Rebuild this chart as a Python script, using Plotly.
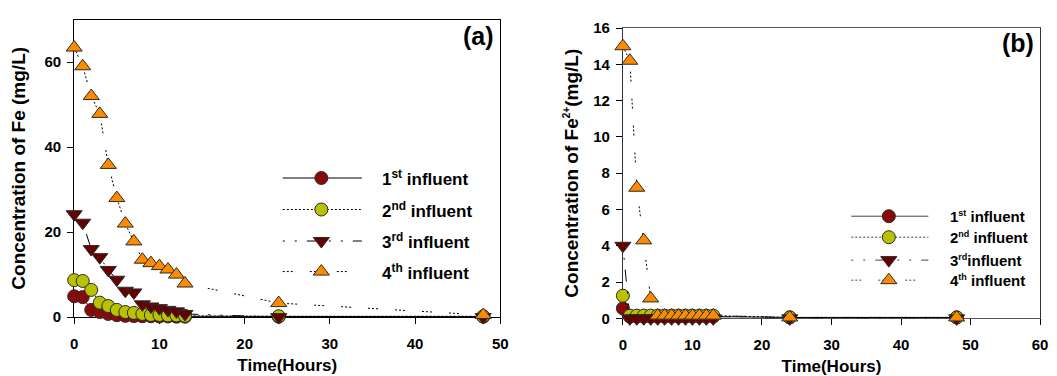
import plotly.graph_objects as go

# ---------------- data ----------------
time_h = [0, 1, 2, 3, 4, 5, 6, 7, 8, 9, 10, 11, 12, 13, 24, 48]

fe_1st = [4.9, 4.7, 1.7, 1.2, 0.75, 0.45, 0.3, 0.25, 0.2, 0.2, 0.15, 0.15, 0.1, 0.1, 0.1, 0.1]
fe_2nd = [8.7, 8.5, 6.4, 3.4, 2.6, 1.7, 1.2, 1.0, 0.75, 0.5, 0.5, 0.4, 0.4, 0.3, 0.2, 0.2]
fe_3rd = [24.2, 22.2, 16.0, 14.1, 11.1, 8.8, 6.2, 5.8, 3.0, 2.5, 2.1, 1.7, 1.35, 0.75, 0.0, 0.0]
fe_4th = [63.4, 59.0, 52.0, 47.8, 35.8, 28.0, 22.0, 17.8, 13.5, 12.7, 12.0, 11.2, 10.0, 7.9, 3.3, 0.5]

fe2_1st = [0.55, 0.1, 0.1, 0.1, 0.1, 0.1, 0.1, 0.1, 0.1, 0.1, 0.1, 0.1, 0.1, 0.1, 0.05, 0.05]
fe2_2nd = [1.25, 0.15, 0.15, 0.15, 0.15, 0.15, 0.15, 0.15, 0.15, 0.15, 0.15, 0.15, 0.15, 0.15, 0.05, 0.05]
fe2_3rd = [4.0, 0.0, 0.0, 0.0, 0.0, 0.0, 0.0, 0.0, 0.0, 0.0, 0.0, 0.0, 0.0, 0.0, 0.0, 0.0]
fe2_4th = [15.0, 14.2, 7.2, 4.3, 1.1, 0.15, 0.15, 0.15, 0.15, 0.15, 0.15, 0.15, 0.15, 0.15, 0.05, 0.05]

series_names = ["1st influent", "2nd influent", "3rd influent", "4th influent"]
legend_labels_a = ["1<sup>st</sup> influent", "2<sup>nd</sup> influent",
                   "3<sup>rd</sup> influent", "4<sup>th</sup> influent"]
legend_labels_b = ['1<sup><span style="font-size:9px">st</span></sup> influent',
                   '2<sup><span style="font-size:9px">nd</span></sup> influent',
                   '3<sup><span style="font-size:9px">rd</span></sup>influent',
                   '4<sup><span style="font-size:9px">th</span></sup> influent']

# ---------------- styles ----------------
W, H = 1057, 376
FONT = "Liberation Sans, Arial, sans-serif"
colors = ["#8a0a0a", "#b9c100", "#650000", "#ff8a00"]
symbols = ["circle", "circle", "triangle-down", "triangle-up"]
msizes = [13, 13, 14, 14]
dashes = ["solid", "2px,2px", "2px,10px,2px,10px,12px,10px", "2px,2px,2px,2px,2px,17px"]

fig = go.Figure()

left = [fe_1st, fe_2nd, fe_3rd, fe_4th]
right = [fe2_1st, fe2_2nd, fe2_3rd, fe2_4th]

for i in range(4):
    fig.add_trace(go.Scatter(
        x=time_h, y=left[i], mode="lines+markers", name=series_names[i],
        line=dict(color="black", width=1, dash=dashes[i]),
        marker=dict(symbol=symbols[i], size=msizes[i], color=colors[i],
                    line=dict(color="#2a2a2a", width=1)),
        cliponaxis=False, showlegend=False, xaxis="x", yaxis="y"))
for i in range(4):
    fig.add_trace(go.Scatter(
        x=time_h, y=right[i], mode="lines+markers", name=series_names[i],
        line=dict(color="black", width=1, dash=dashes[i]),
        marker=dict(symbol=symbols[i], size=msizes[i], color=colors[i],
                    line=dict(color="#2a2a2a", width=1)),
        cliponaxis=False, showlegend=False, xaxis="x2", yaxis="y2"))

# ---------------- hand-made legends (pixel overlay axis) ----------------
leg_a = dict(x0=282, x1=362, xm=321, xt=380, ys=[177, 210, 243, 275], size=17, dy=0)
leg_b = dict(x0=857, x1=935, xm=895, xt=955, ys=[217, 239, 263, 284], size=15, dy=0)
annotations = []
for leg, labels in ((leg_a, legend_labels_a), (leg_b, legend_labels_b)):
    for i, yy in enumerate(leg["ys"]):
        fig.add_trace(go.Scatter(
            x=[leg["x0"], leg["x1"]], y=[yy, yy], mode="lines",
            line=dict(color="black" if leg is leg_a else "#444", width=1, dash=dashes[i]),
            showlegend=False, hoverinfo="skip", xaxis="x3", yaxis="y3"))
        fig.add_trace(go.Scatter(
            x=[leg["xm"]], y=[yy], mode="markers",
            marker=dict(symbol=symbols[i], size=msizes[i], color=colors[i],
                        line=dict(color="#2a2a2a", width=1)),
            showlegend=False, hoverinfo="skip", xaxis="x3", yaxis="y3"))
        annotations.append(dict(
            x=leg["xt"] / W, y=1 - (yy + leg["dy"]) / H, xref="paper", yref="paper",
            xanchor="left", yanchor="middle", showarrow=False, text=labels[i],
            font=dict(family=FONT, size=leg["size"], color="black", weight="bold")))

annotations.append(dict(x=480 / W, y=1 - 28 / H, xref="paper", yref="paper",
                        text="(a)", showarrow=False, xanchor="center", yanchor="middle",
                        font=dict(family=FONT, size=25, color="black", weight="bold")))
annotations.append(dict(x=1026 / W, y=1 - 36 / H, xref="paper", yref="paper",
                        text="(b)", showarrow=False, xanchor="center", yanchor="middle",
                        font=dict(family=FONT, size=25, color="black", weight="bold")))

tickfont = dict(family=FONT, size=15, color="black", weight="bold")
titlefont = dict(family=FONT, size=17, color="black", weight="bold")

common = dict(showgrid=False, zeroline=False, showline=True, linewidth=1,
              ticks="outside", ticklen=6, tickwidth=1, tickcolor="black",
              tickfont=tickfont, layer="below traces")

fig.update_layout(
    width=W, height=H, autosize=False,
    margin=dict(l=0, r=0, t=0, b=0),
    paper_bgcolor="white", plot_bgcolor="rgba(0,0,0,0)",
    xaxis=dict(domain=[71 / W, 502 / W], range=[0, 50], dtick=10, anchor="y",
               linecolor="black", mirror=True, ticklabelstandoff=7,
               title=dict(text="Time(Hours)", font=titlefont, standoff=7), **common),
    yaxis=dict(domain=[1 - 322.7 / H, 1 - 11 / H], range=[0, 70], dtick=20, anchor="x",
               linecolor="black", mirror=True, ticklabelstandoff=3,
               title=dict(text="Concentration of Fe (mg/L)", font=dict(titlefont, size=19), standoff=13),
               **common),
    xaxis2=dict(domain=[626 / W, 1048 / W], range=[0, 60], dtick=10, anchor="y2",
                linecolor="#555", mirror=True, ticklabelstandoff=7,
                title=dict(text="Time(Hours)", font=titlefont, standoff=7), **common),
    yaxis2=dict(domain=[1 - 324 / H, 1 - 20 / H], range=[0, 16], dtick=2, anchor="x2",
                linecolor="#333", mirror=True, ticklabelstandoff=3,
                title=dict(text='Concentration of Fe<sup><span style="font-size:10px">2+</span></sup>(mg/L)',
                           font=dict(titlefont, size=19), standoff=9),
                **common),
    xaxis3=dict(domain=[0, 1], range=[0, W], visible=False, anchor="y3", fixedrange=True),
    yaxis3=dict(domain=[0, 1], range=[H, 0], visible=False, anchor="x3", fixedrange=True),
    annotations=annotations,
    font=dict(family=FONT, color="black"),
)

fig.write_html("out.html")
